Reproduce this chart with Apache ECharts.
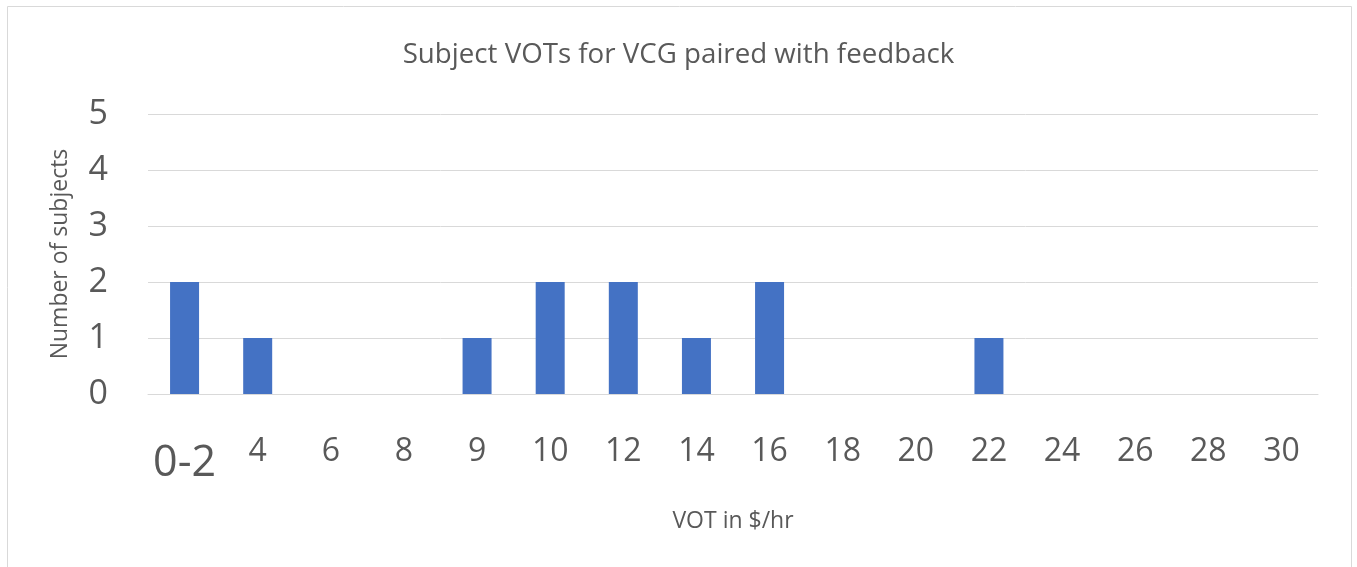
<!DOCTYPE html>
<html>
<head>
<meta charset="utf-8">
<script src="https://cdn.jsdelivr.net/npm/echarts@6/dist/echarts.min.js"></script>
<style>
  html, body { margin: 0; padding: 0; background: #fff; }
  #main { width: 1357px; height: 567px; }
</style>
</head>
<body>
<div id="main"></div>
<script>
// VOT buckets ($/hr) and number of subjects in each
var categories = ['0-2', '4', '6', '8', '9', '10', '12', '14', '16', '18', '20', '22', '24', '26', '28', '30'];
var subjects = [2, 1, 0, 0, 1, 2, 2, 1, 2, 0, 0, 1, 0, 0, 0, 0];

var chartDom = document.getElementById('main');
var myChart = echarts.init(chartDom);
var option;

option = {
  animation: false,
  graphic: [
    {
      type: 'rect',
      shape: { x: 7.5, y: 6.5, width: 1344, height: 600 },
      style: { fill: 'none', stroke: '#d9d9d9', lineWidth: 1 }
    }
  ],
  title: {
    text: 'Subject VOTs for VCG paired with feedback',
    left: 'center',
    top: 36,
    textStyle: {
      fontFamily: 'Open Sans',
      fontSize: 27.7,
      fontWeight: 'normal',
      color: '#595959'
    }
  },
  grid: {
    left: 148,
    right: 39,
    top: 114,
    bottom: 173
  },
  xAxis: {
    type: 'category',
    data: categories,
    name: 'VOT in $/hr',
    nameLocation: 'middle',
    nameGap: 116,
    nameTextStyle: { fontFamily: 'Open Sans', fontSize: 23, color: '#595959' },
    axisLine: { lineStyle: { color: '#d9d9d9' } },
    axisTick: { show: false },
    axisLabel: {
      interval: 0,
      margin: 42,
      fontFamily: 'Open Sans',
      fontSize: 32,
      color: '#595959',
      formatter: function (v) {
        return v === '0-2' ? '{big|' + v + '}' : v;
      },
      rich: {
        big: { fontFamily: 'Open Sans', fontSize: 43, color: '#595959', padding: [6, 0, 0, 0] }
      }
    }
  },
  yAxis: {
    type: 'value',
    min: 0,
    max: 5,
    interval: 1,
    name: 'Number of subjects',
    nameLocation: 'middle',
    nameGap: 76,
    nameTextStyle: { fontFamily: 'Open Sans', fontSize: 23, color: '#595959' },
    axisLine: { show: false },
    axisTick: { show: false },
    axisLabel: {
      margin: 40,
      fontFamily: 'Open Sans',
      fontSize: 34,
      color: '#595959'
    },
    splitLine: { lineStyle: { color: '#d9d9d9', width: 1 } }
  },
  series: [
    {
      name: 'Subjects',
      type: 'bar',
      data: subjects,
      barWidth: 29,
      itemStyle: { color: '#4472C4' }
    }
  ]
};

option && myChart.setOption(option);
</script>
</body>
</html>
